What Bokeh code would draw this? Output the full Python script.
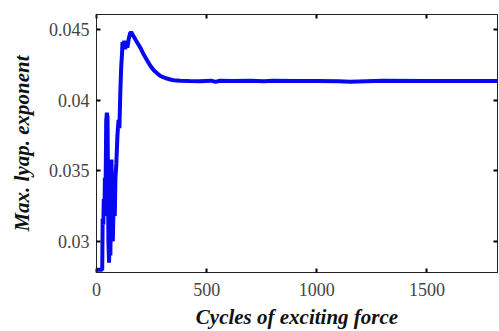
from bokeh.plotting import figure
from bokeh.models import LinearAxis, FixedTicker, Range1d
from bokeh.embed import file_html
from bokeh.resources import INLINE

cycles = [0, 26, 28, 31, 33, 36, 38, 41, 44, 47, 50, 52, 54, 57, 60, 63, 66, 68, 71, 74,
          77, 80, 83, 86, 90, 95, 100, 104, 108, 112, 116, 118, 122, 126, 130, 134, 140,
          146, 152, 157, 165, 180, 199, 215, 230, 245, 260, 275, 290, 305, 320, 335, 350,
          380, 420, 470, 520, 540, 560, 620, 700, 760, 800, 900, 1000, 1100, 1150, 1300,
          1500, 1650, 1820]
lyap = [0.0280, 0.0280, 0.0316, 0.0312, 0.0330, 0.0318, 0.0345, 0.0330, 0.0385, 0.0391,
        0.0388, 0.0350, 0.0300, 0.0285, 0.0310, 0.0290, 0.0330, 0.0358, 0.0325, 0.0300,
        0.0321, 0.0335, 0.0318, 0.0345, 0.0355, 0.0375, 0.0386, 0.0380, 0.0405, 0.0423,
        0.0433, 0.0441, 0.0436, 0.0442, 0.0436, 0.0441, 0.0437, 0.0443, 0.0447, 0.0448,
        0.0446, 0.0442, 0.0437, 0.0432, 0.0428, 0.0424, 0.0421, 0.0419, 0.0417, 0.0416,
        0.04152, 0.04145, 0.0414, 0.04137, 0.04135, 0.04133, 0.04137, 0.04128, 0.04136,
        0.04134, 0.04137, 0.04133, 0.04136, 0.04135, 0.04135, 0.04133, 0.04130, 0.04136,
        0.04135, 0.04135, 0.04135]

x_ticks = [0, 500, 1000, 1500]
y_ticks = [0.03, 0.035, 0.04, 0.045]
y_tick_labels = ["0.03", "0.035", "0.04", "0.045"]
x_label = "Cycles of exciting force"
y_label = "Max. lyap. exponent"

p = figure(width=499, height=331, output_backend="svg", toolbar_location=None,
           x_range=Range1d(0, 1820), y_range=Range1d(0.0278, 0.04605),
           min_border_left=96, min_border_right=2, min_border_top=14, min_border_bottom=58)
p.outline_line_color = "#222222"
p.outline_line_width = 1
p.grid.visible = False
p.background_fill_color = "white"
p.border_fill_color = "white"

p.line(cycles, lyap, line_color="#0808f0", line_width=4)

tick_font = "Liberation Sans Narrow"
for ax in p.xaxis:
    ax.ticker = FixedTicker(ticks=x_ticks)
for ax in p.yaxis:
    ax.ticker = FixedTicker(ticks=y_ticks)
    ax.major_label_overrides = {t: l for t, l in zip(y_ticks, y_tick_labels)}

for ax in list(p.xaxis) + list(p.yaxis):
    ax.major_tick_in = 4
    ax.major_tick_out = 0
    ax.minor_tick_in = 0
    ax.minor_tick_out = 0
    ax.major_tick_line_width = 2
    ax.major_tick_line_color = "black"
    ax.axis_line_color = "#222222"
    ax.major_label_text_font = tick_font
    ax.major_label_text_font_size = "18px"
    ax.major_label_text_color = "#444444"
    ax.axis_label_text_font = "Liberation Serif"
    ax.axis_label_text_font_style = "bold italic"
    ax.axis_label_text_font_size = "21px"
    ax.axis_label_text_color = "#111111"

p.xaxis.axis_label = x_label
p.yaxis.axis_label = y_label
p.xaxis.major_label_standoff = 10
p.yaxis.major_label_standoff = 7
p.xaxis.axis_label_standoff = 6
p.yaxis.axis_label_standoff = 12

top = LinearAxis(ticker=FixedTicker(ticks=x_ticks), major_label_text_color=None,
                 major_tick_in=4, major_tick_out=0, minor_tick_in=0, minor_tick_out=0,
                 major_tick_line_width=2, axis_line_color="#222222", major_label_standoff=0)
right = LinearAxis(ticker=FixedTicker(ticks=y_ticks), major_label_text_color=None,
                   major_tick_in=4, major_tick_out=0, minor_tick_in=0, minor_tick_out=0,
                   major_tick_line_width=2, axis_line_color="#222222", major_label_standoff=0)
p.add_layout(top, "above")
p.add_layout(right, "right")

open("out.html", "w").write(file_html(p, INLINE))
